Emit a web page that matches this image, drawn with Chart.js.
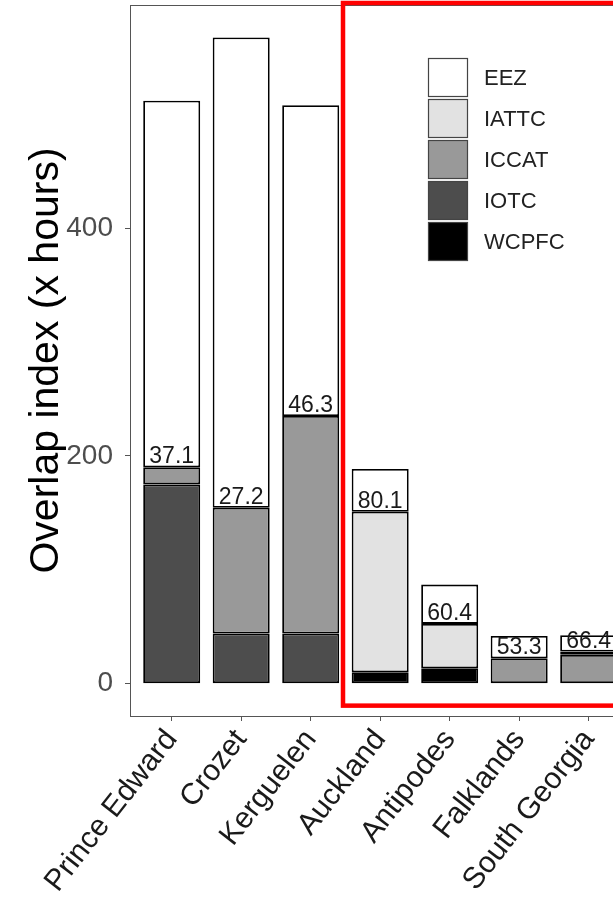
<!DOCTYPE html>
<html lang="en">
<head>
  <meta charset="UTF-8" />
  <title>Overlap index by island</title>
  <script src="https://cdn.jsdelivr.net/npm/chart.js"></script>
  <style>
    html, body {
      margin: 0;
      padding: 0;
      background: #ffffff;
      overflow: hidden;
    }
    #wrap {
      width: 613px;
      height: 904px;
    }
  </style>
</head>
<body>
  <div id="wrap"><canvas id="overlapChart" width="613" height="904"></canvas></div>

  <script>
    const islands = ['Prince Edward', 'Crozet', 'Kerguelen', 'Auckland', 'Antipodes', 'Falklands', 'South Georgia'];

    // segments, bottom of the stack first
    const wcpfc = [0, 0, 0, 10, 13.5, 0, 0];
    const iotc  = [175, 44, 44, 0, 0, 0, 0];
    const iccat = [15, 110.5, 191, 0, 0, 22.3, 25.3];
    const iattc = [0, 0, 0, 141, 39, 0, 2.9];
    const eez   = [322, 413, 273, 37.5, 34.5, 19.5, 14.3];

    // % of overlap outside the EEZ, printed above the RFMO part
    const pctLabels = ['37.1', '27.2', '46.3', '80.1', '60.4', '53.3', '66.4'];
    const yTicks = [0, 200, 400];

    const FONT = '"Liberation Sans", Arial, sans-serif';

    const series = [
      { label: 'WCPFC', data: wcpfc, color: '#000000' },
      { label: 'IOTC',  data: iotc,  color: '#4d4d4d' },
      { label: 'ICCAT', data: iccat, color: '#999999' },
      { label: 'IATTC', data: iattc, color: '#e2e2e2' },
      { label: 'EEZ',   data: eez,   color: '#ffffff' }
    ];

    // highlighted group (Auckland onwards), in axis units
    const boxFrom = 2.465;
    const boxBottom = -19.3;

    const overlays = {
      id: 'overlays',
      afterDatasetsDraw(chart) {
        const { ctx, scales: { x, y } } = chart;
        ctx.save();
        ctx.font = '23px ' + FONT;
        ctx.fillStyle = '#1a1a1a';
        ctx.textAlign = 'center';
        ctx.textBaseline = 'alphabetic';
        islands.forEach((_, i) => {
          const rfmo = wcpfc[i] + iotc[i] + iccat[i] + iattc[i];
          ctx.fillText(pctLabels[i], x.getPixelForValue(i), y.getPixelForValue(rfmo) - 4);
        });
        ctx.restore();
      },
      afterDraw(chart) {
        const { ctx, chartArea, scales: { x, y } } = chart;
        ctx.save();

        // top edge of the panel
        ctx.strokeStyle = '#555555';
        ctx.lineWidth = 1;
        ctx.beginPath();
        ctx.moveTo(chartArea.left, chartArea.top + 0.5);
        ctx.lineTo(chartArea.right, chartArea.top + 0.5);
        ctx.stroke();

        // red box round the second group
        ctx.strokeStyle = '#ff0000';
        ctx.lineWidth = 4.5;
        ctx.strokeRect(x.getPixelForValue(boxFrom), chartArea.top - 2,
          chart.width + 20, y.getPixelForValue(boxBottom) - chartArea.top + 2);

        // legend, EEZ on top
        const keyX = 428, keyW = 40, keyH = 39, step = 41;
        let keyY = 58;
        ctx.font = '22px ' + FONT;
        ctx.textAlign = 'left';
        ctx.textBaseline = 'middle';
        series.slice().reverse().forEach(s => {
          ctx.fillStyle = s.color;
          ctx.fillRect(keyX, keyY, keyW, keyH);
          ctx.strokeStyle = '#444444';
          ctx.lineWidth = 1.2;
          ctx.strokeRect(keyX + 0.5, keyY + 0.5, keyW - 1, keyH - 1);
          ctx.fillStyle = '#222222';
          ctx.fillText(s.label, keyX + keyW + 16, keyY + keyH / 2 + 1);
          keyY += step;
        });
        ctx.restore();
      }
    };

    new Chart(document.getElementById('overlapChart'), {
      type: 'bar',
      data: {
        datasets: series.map(s => ({
          label: s.label,
          data: s.data.map((v, i) => ({ x: i, y: v })),
          backgroundColor: s.color,
          borderColor: '#000000',
          borderWidth: 1.8,
          borderSkipped: false,
          barPercentage: 0.82,
          categoryPercentage: 1
        }))
      },
      options: {
        responsive: false,
        devicePixelRatio: 1,
        animation: false,
        layout: { padding: { top: 5, left: 0, right: 0, bottom: 0 } },
        plugins: {
          legend: { display: false },
          tooltip: { enabled: false }
        },
        scales: {
          x: {
            type: 'linear',
            stacked: true,
            offset: false,
            min: -0.6,
            max: 6.35,
            afterBuildTicks: s => { s.ticks = islands.map((_, i) => ({ value: i })); },
            afterFit: s => {
              s.height = 188;
              s.paddingLeft = 0;
              s.paddingRight = 0;
            },
            grid: { offset: false, drawOnChartArea: false, tickLength: 5, color: '#555555' },
            border: { color: '#555555', width: 1 },
            ticks: {
              autoSkip: false,
              minRotation: 52,
              maxRotation: 52,
              padding: 2,
              color: '#1a1a1a',
              font: { family: FONT, size: 30 },
              callback: v => islands[v]
            }
          },
          y: {
            stacked: true,
            min: -28.4,
            max: 596,
            afterBuildTicks: s => { s.ticks = yTicks.map(v => ({ value: v })); },
            afterFit: s => {
              s.width = 130;
              s.paddingTop = 0;
              s.paddingBottom = 0;
            },
            grid: { drawOnChartArea: false, tickLength: 5, color: '#555555' },
            border: { color: '#555555', width: 1 },
            ticks: { padding: 12, color: '#4d4d4d', font: { family: FONT, size: 28 } },
            title: {
              display: true,
              text: 'Overlap index (x hours)',
              color: '#000000',
              font: { family: FONT, size: 41 },
              padding: { top: 22, bottom: 0 }
            }
          }
        }
      },
      plugins: [overlays]
    });
  </script>
</body>
</html>
